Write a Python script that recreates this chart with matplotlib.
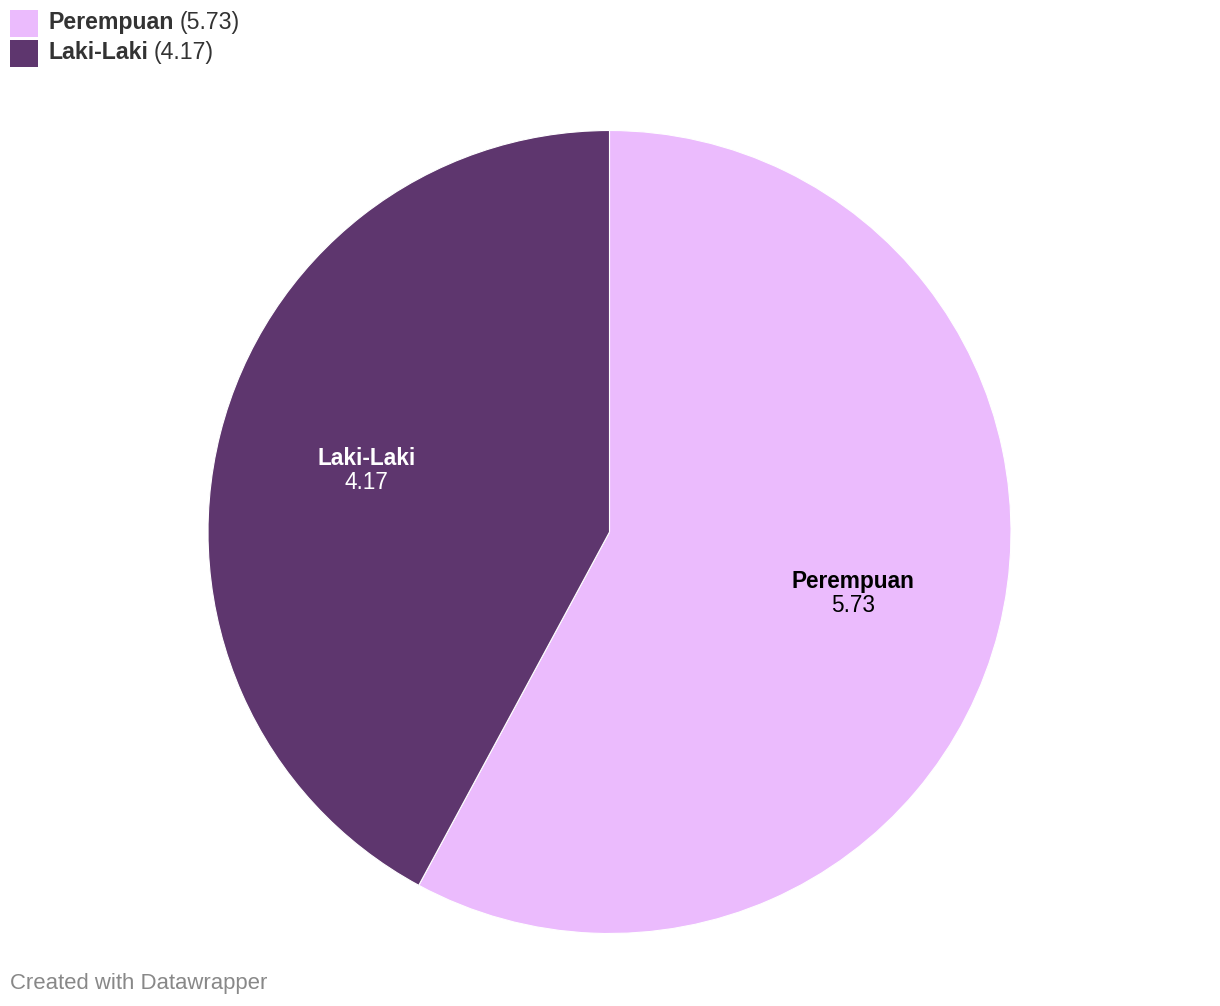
import numpy as np
import matplotlib.pyplot as plt
from matplotlib.patches import Rectangle

plt.rcParams['font.family'] = ['Liberation Sans', 'DejaVu Sans']

labels = ['Perempuan', 'Laki-Laki']
values = [5.73, 4.17]
colors = ['#ebbbfd', '#5e366e']
label_colors = ['#000000', '#ffffff']

W, H = 1220, 1006
fig = plt.figure(figsize=(W / 100, H / 100), dpi=100)
ax = fig.add_axes([0, 0, 1, 1])

cx, cy, r = 609.5, H - 532, 401.5
wedges, _ = ax.pie(values, colors=colors, startangle=90, counterclock=False,
                   center=(cx, cy), radius=r, frame=True,
                   wedgeprops=dict(edgecolor='white', linewidth=0.8))
ax.set_xlim(0, W)
ax.set_ylim(0, H)
ax.set_aspect('equal')
ax.axis('off')

# labels inside slices
for w, lab, val, tc in zip(wedges, labels, values, label_colors):
    mid = np.deg2rad((w.theta1 + w.theta2) / 2)
    x = cx + 0.625 * r * np.cos(mid)
    y = cy + 0.625 * r * np.sin(mid)
    ax.text(x, y + 12, lab, ha='center', va='center', fontsize=16.3,
            fontweight='bold', color=tc)
    ax.text(x, y - 12, f'{val:.2f}', ha='center', va='center', fontsize=16.3,
            color=tc)

# legend
for i, (lab, val, c) in enumerate(zip(labels, values, colors)):
    top = 10 + i * 30
    ax.add_patch(Rectangle((10, H - top - 27), 28, 27, facecolor=c, edgecolor='none'))
    t = ax.text(49, H - top - 12, lab, ha='left', va='center', fontsize=16.7,
                fontweight='bold', color='#333333')
    fig.canvas.draw()
    bb = t.get_window_extent()
    ax.text(bb.x1 + 5, H - top - 12, f'({val:.2f})', ha='left', va='center',
            fontsize=16.7, color='#333333')

ax.text(10, H - 983, 'Created with Datawrapper', ha='left', va='center',
        fontsize=15.9, color='#888888')

fig.savefig('out.png', dpi=100)
